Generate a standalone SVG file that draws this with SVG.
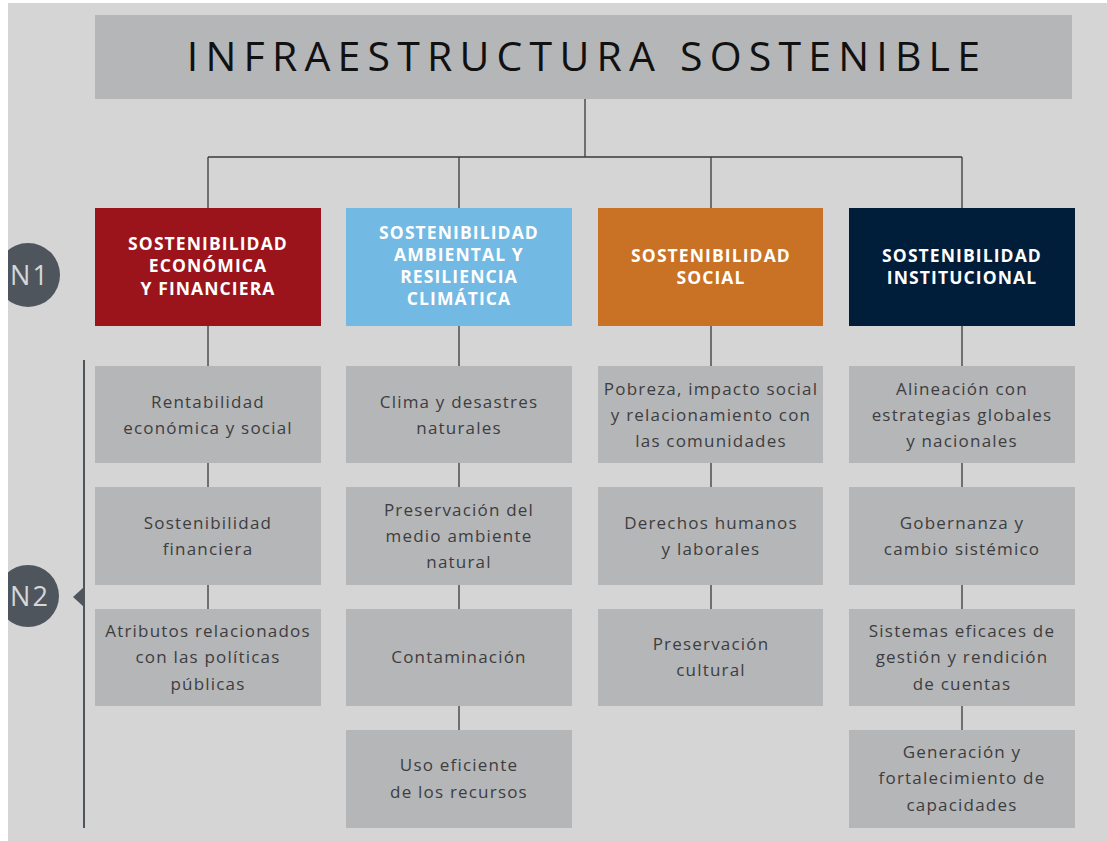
<svg xmlns="http://www.w3.org/2000/svg" width="1107" height="841" viewBox="0 0 1107 841">
<style>
.conn{stroke:#3a3a3a;stroke-width:1.3;fill:none}
.box{fill:#b5b6b8}
.t{font-family:"Open Sans","Liberation Sans",sans-serif;font-size:17px;fill:#3d3d40;text-anchor:middle;letter-spacing:1.2px}
.h{font-family:"Open Sans","Liberation Sans",sans-serif;font-size:17.5px;font-weight:bold;fill:#ffffff;text-anchor:middle;letter-spacing:1.1px}
.n{font-family:"Open Sans","Liberation Sans",sans-serif;font-size:27px;fill:#d4d7db;text-anchor:middle;letter-spacing:2px}
</style>
<rect x="0" y="0" width="1107" height="841" fill="#ffffff"/>
<rect x="8" y="3" width="1099" height="838" fill="#d5d5d5"/>
<g id="connectors">
<path class="conn" d="M585,99V157M208,157H962M208,157V208M459,157V208M711,157V208M962,157V208"/>
<path class="conn" d="M208,326V366M208,463V487M208,585V609"/>
<path class="conn" d="M459,326V366M459,463V487M459,585V609M459,706V730"/>
<path class="conn" d="M711,326V366M711,463V487M711,585V609"/>
<path class="conn" d="M962,326V366M962,463V487M962,585V609M962,706V730"/>
<path d="M84,360V828" stroke="#4f555c" stroke-width="2" fill="none"/>
<polygon points="73,597 84,587 84,607" fill="#4f555c"/>
</g>
<g id="title">
<rect x="95" y="15" width="977" height="84" fill="#b5b6b8"/>
<text x="587" y="71" font-family="'Open Sans','Liberation Sans',sans-serif" font-size="41" fill="#111" text-anchor="middle" letter-spacing="7.2">INFRAESTRUCTURA SOSTENIBLE</text>
</g>
<g id="n1">
<circle cx="28" cy="275" r="32" fill="#4f555c"/>
<text class="n" x="30" y="285">N1</text>
</g>
<g id="n2">
<circle cx="28" cy="596" r="31" fill="#4f555c"/>
<text class="n" x="30" y="606">N2</text>
</g>
<rect x="0" y="0" width="8" height="841" fill="#ffffff"/>
<g id="h1">
<rect x="95" y="208" width="226" height="118" fill="#9b141b"/>
<text class="h" x="208" y="250">SOSTENIBILIDAD</text>
<text class="h" x="208" y="272">ECONÓMICA</text>
<text class="h" x="208" y="295">Y FINANCIERA</text>
</g>
<g id="h2">
<rect x="346" y="208" width="226" height="118" fill="#72b9e3"/>
<text class="h" x="459" y="239">SOSTENIBILIDAD</text>
<text class="h" x="459" y="261">AMBIENTAL Y</text>
<text class="h" x="459" y="283">RESILIENCIA</text>
<text class="h" x="459" y="305">CLIMÁTICA</text>
</g>
<g id="h3">
<rect x="598" y="208" width="225" height="118" fill="#c97124"/>
<text class="h" x="711" y="262">SOSTENIBILIDAD</text>
<text class="h" x="711" y="284">SOCIAL</text>
</g>
<g id="h4">
<rect x="849" y="208" width="226" height="118" fill="#001d3a"/>
<text class="h" x="962" y="262">SOSTENIBILIDAD</text>
<text class="h" x="962" y="284">INSTITUCIONAL</text>
</g>
<g id="c1r1"><rect class="box" x="95" y="366" width="226" height="97"/>
<text class="t" x="208" y="408">Rentabilidad</text><text class="t" x="208" y="434">económica y social</text></g>
<g id="c1r2"><rect class="box" x="95" y="487" width="226" height="98"/>
<text class="t" x="208" y="529">Sostenibilidad</text><text class="t" x="208" y="555">financiera</text></g>
<g id="c1r3"><rect class="box" x="95" y="609" width="226" height="97"/>
<text class="t" x="208" y="637">Atributos relacionados</text><text class="t" x="208" y="663">con las políticas</text><text class="t" x="208" y="690">públicas</text></g>
<g id="c2r1"><rect class="box" x="346" y="366" width="226" height="97"/>
<text class="t" x="459" y="408">Clima y desastres</text><text class="t" x="459" y="434">naturales</text></g>
<g id="c2r2"><rect class="box" x="346" y="487" width="226" height="98"/>
<text class="t" x="459" y="516">Preservación del</text><text class="t" x="459" y="542">medio ambiente</text><text class="t" x="459" y="568">natural</text></g>
<g id="c2r3"><rect class="box" x="346" y="609" width="226" height="97"/>
<text class="t" x="459" y="663">Contaminación</text></g>
<g id="c2r4"><rect class="box" x="346" y="730" width="226" height="98"/>
<text class="t" x="459" y="771">Uso eficiente</text><text class="t" x="459" y="798">de los recursos</text></g>
<g id="c3r1"><rect class="box" x="598" y="366" width="225" height="97"/>
<text class="t" x="711" y="395">Pobreza, impacto social</text><text class="t" x="711" y="421">y relacionamiento con</text><text class="t" x="711" y="447">las comunidades</text></g>
<g id="c3r2"><rect class="box" x="598" y="487" width="225" height="98"/>
<text class="t" x="711" y="529">Derechos humanos</text><text class="t" x="711" y="555">y laborales</text></g>
<g id="c3r3"><rect class="box" x="598" y="609" width="225" height="97"/>
<text class="t" x="711" y="650">Preservación</text><text class="t" x="711" y="676">cultural</text></g>
<g id="c4r1"><rect class="box" x="849" y="366" width="226" height="97"/>
<text class="t" x="962" y="395">Alineación con</text><text class="t" x="962" y="421">estrategias globales</text><text class="t" x="962" y="447">y nacionales</text></g>
<g id="c4r2"><rect class="box" x="849" y="487" width="226" height="98"/>
<text class="t" x="962" y="529">Gobernanza y</text><text class="t" x="962" y="555">cambio sistémico</text></g>
<g id="c4r3"><rect class="box" x="849" y="609" width="226" height="97"/>
<text class="t" x="962" y="637">Sistemas eficaces de</text><text class="t" x="962" y="663">gestión y rendición</text><text class="t" x="962" y="690">de cuentas</text></g>
<g id="c4r4"><rect class="box" x="849" y="730" width="226" height="98"/>
<text class="t" x="962" y="758">Generación y</text><text class="t" x="962" y="784">fortalecimiento de</text><text class="t" x="962" y="811">capacidades</text></g>
</svg>
